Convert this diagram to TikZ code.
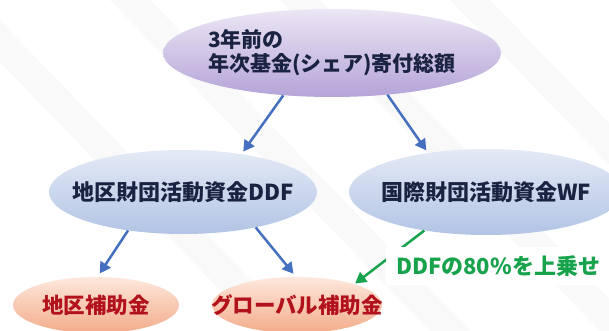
\documentclass[tikz,border=0pt]{standalone}
\usepackage{fontspec}
\setmainfont{Noto Sans CJK JP}
\usetikzlibrary{shapes.geometric}
\usetikzlibrary{arrows.meta}
\definecolor{navytext}{HTML}{1B2342}
\definecolor{redtext}{HTML}{B2121C}
\definecolor{arrowblue}{HTML}{4570C0}
\definecolor{arrowgreen}{HTML}{16A34C}
\tikzset{x=1pt, y=-1pt,
fund/.style={ % Sets the properties for each ellipse
ellipse, inner sep=0pt},
fundtext/.style={ % Text set over an ellipse
font=\fontsize{22}{25}\selectfont\bfseries, inner sep=0pt},
topfund/.style={fund, % Purple source
top color={rgb,255:red,236;green,230;blue,245}, bottom color={rgb,255:red,180;green,164;blue,216}},
midfund/.style={fund, % Blue funds
top color={rgb,255:red,228;green,234;blue,246}, bottom color={rgb,255:red,178;green,196;blue,229}},
grant/.style={fund, % Orange grants
top color={rgb,255:red,253;green,232;blue,220}, bottom color={rgb,255:red,243;green,172;blue,138}},
flow/.style={ % Sets the properties for each arrow
draw=arrowblue, line width=2.5pt,
-{Triangle[length=11pt,width=12pt]},
shorten >=3pt}}

\begin{document}
\begin{tikzpicture}
	\clip (0,0) rectangle (609,331);
	\fill[white] (0,0) rectangle (609,331);
	% faint stripes
	\foreach \s in {-60,110,280,450}
		\fill[gray!5] (\s,0) -- (\s+40,0) -- (\s+360,331) -- (\s+320,331) -- cycle;
	\node[topfund, minimum width=338pt, minimum height=88pt,
		label={[fundtext, font=\fontsize{21}{24}\selectfont\bfseries, text=navytext, align=left]center:3年前の\\年次基金(シェア)寄付総額}] (total) at (332,53) {};
	\node[midfund, minimum width=268pt, minimum height=84pt,
		label={[fundtext, text=navytext]center:地区財団活動資金DDF}] (ddf) at (183,192) {};
	\node[midfund, minimum width=274pt, minimum height=86pt,
		label={[fundtext, text=navytext]center:国際財団活動資金WF}] (wf) at (486,192) {};
	\node[grant, minimum width=166pt, minimum height=56pt,
		label={[fundtext, font=\fontsize{21.5}{24}\selectfont\bfseries, text=redtext]center:地区補助金}] (dg) at (96,305) {};
	\node[grant, minimum width=170pt, minimum height=56pt,
		label={[fundtext, font=\fontsize{21.5}{24}\selectfont\bfseries, text=redtext]center:グローバル補助金}] (gg) at (297,305) {};
	\draw[flow] (total.221) -- (ddf.33);
	\draw[flow] (total.323) -- (wf.146);
	\draw[flow, shorten >=4pt] (ddf.215) -- (dg.87);
	\draw[flow, shorten >=4pt] (ddf.334) -- (gg.92);
	\draw[flow, draw=arrowgreen, shorten >=1pt] (wf.212) -- (gg.20);
	\node[fill=white, text=arrowgreen, anchor=west, inner xsep=10pt, inner ysep=0pt, minimum height=38pt,
		font=\fontsize{22}{24}\selectfont\bfseries] (share) at (386,266) {DDFの80\%を上乗せ};
\end{tikzpicture}
\end{document}
